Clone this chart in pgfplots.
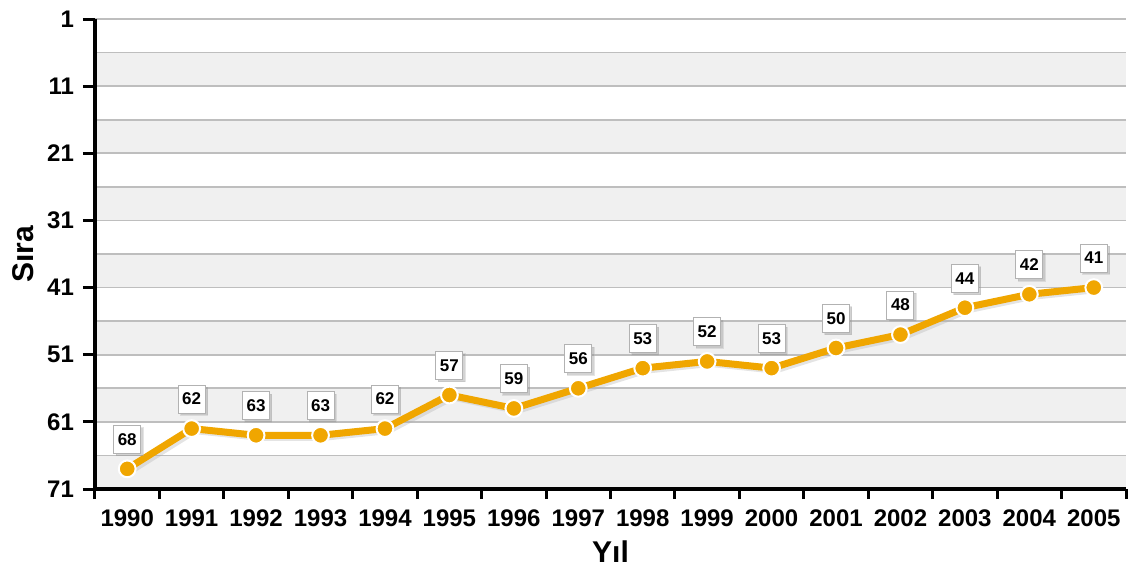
\documentclass[border=0pt]{standalone}
\usepackage{fontspec}
\setmainfont{Liberation Sans}
\usepackage{pgfplots}
\pgfplotsset{compat=1.18}
\usetikzlibrary{shadows}
\definecolor{lineorange}{RGB}{240,166,0}
\definecolor{bandgray}{RGB}{240,240,240}
\definecolor{gridgray}{RGB}{190,190,190}
\begin{document}
\begin{tikzpicture}
\begin{axis}[
  scale only axis,
  width=515.5pt, height=235pt,
  xmin=-0.5, xmax=15.5,
  ymin=-71, ymax=-1,
  axis x line*=bottom,
  axis y line*=left,
  axis line style={line width=2.2pt, black},
  xtick={0,...,15},
  xticklabels={1990,1991,1992,1993,1994,1995,1996,1997,1998,1999,2000,2001,2002,2003,2004,2005},
  minor xtick={-0.5,0.5,...,15.5},
  major x tick style={draw=none},
  minor x tick style={line width=1.5pt, black},
  minor tick length=5pt,
  ytick={-71,-61,-51,-41,-31,-21,-11,-1},
  yticklabels={71,61,51,41,31,21,11,1},
  major y tick style={line width=1.5pt, black},
  major tick length=6pt,
  tick align=outside,
  /pgf/number format/assume math mode=true,
  ticklabel style={font=\bfseries\fontsize{12}{14}\selectfont},
  xticklabel style={yshift=-1pt},
  yticklabel style={xshift=-1pt},
  xlabel={Yıl},
  ylabel={Sıra},
  label style={font=\bfseries\fontsize{15}{18}\selectfont},
  axis on top,
  clip=false,
]
\pgfplotsinvokeforeach{-6,-16,-26,-36,-46,-56,-66}{
  \fill[bandgray] (axis cs:-0.5,#1) rectangle (axis cs:15.5,#1-5);
}
\pgfplotsinvokeforeach{-1,-6,-11,-16,-21,-26,-31,-36,-41,-46,-51,-56,-61,-66}{
  \draw[gridgray, line width=0.8pt] (axis cs:-0.5,#1) -- (axis cs:15.5,#1);
}
\addplot[color=black!30, line width=3.5pt, opacity=0.35, forget plot]
  table[x=x, y expr=-\thisrow{r}] {
x r
0.05 68.3
1.05 62.3
2.05 63.3
3.05 63.3
4.05 62.3
5.05 57.3
6.05 59.3
7.05 56.3
8.05 53.3
9.05 52.3
10.05 53.3
11.05 50.3
12.05 48.3
13.05 44.3
14.05 42.3
15.05 41.3
};
\addplot[color=lineorange, line width=3.5pt, mark=*,
  mark options={fill=lineorange, draw=white, line width=1pt, scale=2.1},
  nodes near coords,
  point meta=explicit,
  every node near coord/.append style={
    font=\bfseries\fontsize{8.5}{10}\selectfont,
    fill=white, draw=gray!60, line width=0.5pt,
    drop shadow={shadow xshift=1.2pt, shadow yshift=-1.2pt, opacity=0.35},
    inner sep=1.5pt, minimum width=13.5pt, minimum height=14pt,
    anchor=south, yshift=7.5pt, text=black}]
  table[x=x, y expr=-\thisrow{r}, meta=r] {
x r
0 68
1 62
2 63
3 63
4 62
5 57
6 59
7 56
8 53
9 52
10 53
11 50
12 48
13 44
14 42
15 41
};
\coordinate (bl) at (rel axis cs:0,0);
\end{axis}
\pgfresetboundingbox
\path (bl) ++(-47.5pt,-42.5pt) rectangle ++(565pt,287pt);
\end{tikzpicture}
\end{document}
